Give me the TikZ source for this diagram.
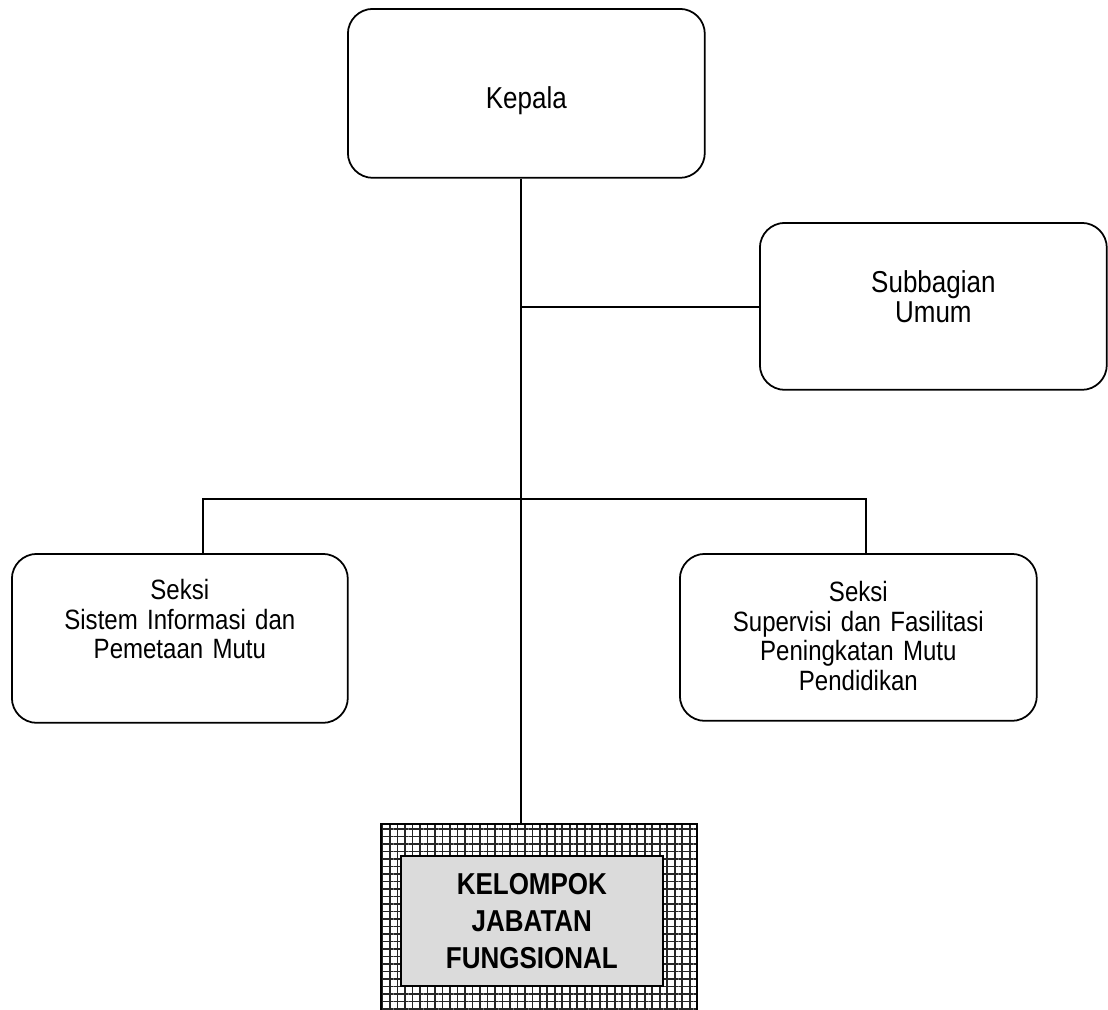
\documentclass[tikz,border=0pt]{standalone}
\usepackage{fontspec}
\setmainfont{Liberation Sans}
\newfontfamily\narrowfont[FakeStretch=0.86]{Liberation Sans}
\usetikzlibrary{patterns.meta}
\begin{document}
\begin{tikzpicture}[x=0.02cm,y=-0.02cm]
\path[use as bounding box] (0,0) rectangle (1108,1009);

\tikzstyle{every path}+=[line width=1pt]
\tikzstyle{unit}=[draw,rounded corners=0.5cm,anchor=north west,align=center,inner xsep=0.2cm,inner ysep=0pt,font=\narrowfont\fontsize{15.9}{16.8}\selectfont]
\tikzstyle{big}=[font=\narrowfont\fontsize{17.2}{17}\selectfont]

\node[unit,big,text width=6.74cm,text height=2cm,text depth=1.38cm] (kepala) at (347,8) {Kepala};
\node[unit,big,text width=6.54cm,text height=1.4cm,text depth=1.94cm] (umum) at (759,222) {Subbagian\\Umum};
\node[unit,text width=6.32cm,text height=0.92cm,text depth=2.46cm] (sim) at (11,553) {Seksi\\Sistem Informasi dan\\Pemetaan Mutu};
\node[unit,text width=6.74cm,text height=0.96cm,text depth=2.38cm] (sup) at (679,553) {Seksi\\Supervisi dan Fasilitasi\\Peningkatan Mutu\\Pendidikan};

\node[draw,anchor=north west,minimum width=6.32cm,minimum height=4cm,pattern color=black!85,
      pattern={Hatch[distance=0.15cm,line width=1pt]}] (jf) at (380,823) {};
\node[draw,fill=black!14,anchor=north west,align=center,inner xsep=0.2cm,inner ysep=0pt,
      text width=4.84cm,text height=0.78cm,text depth=1.82cm,
      font=\narrowfont\fontsize{17.2}{21}\selectfont\bfseries] (jfbox) at (400,855) {KELOMPOK\\JABATAN\\FUNGSIONAL};

\coordinate (trunk) at (521,307);
\coordinate (lb) at (203,499);
\coordinate (rb) at (866,499);

\draw (trunk |- kepala.south) -- (trunk |- jf.north);
\draw (trunk) -- (trunk -| umum.west);
\draw (lb |- sim.north) -- (lb) -- (rb) -- (rb |- sup.north);
\end{tikzpicture}
\end{document}
